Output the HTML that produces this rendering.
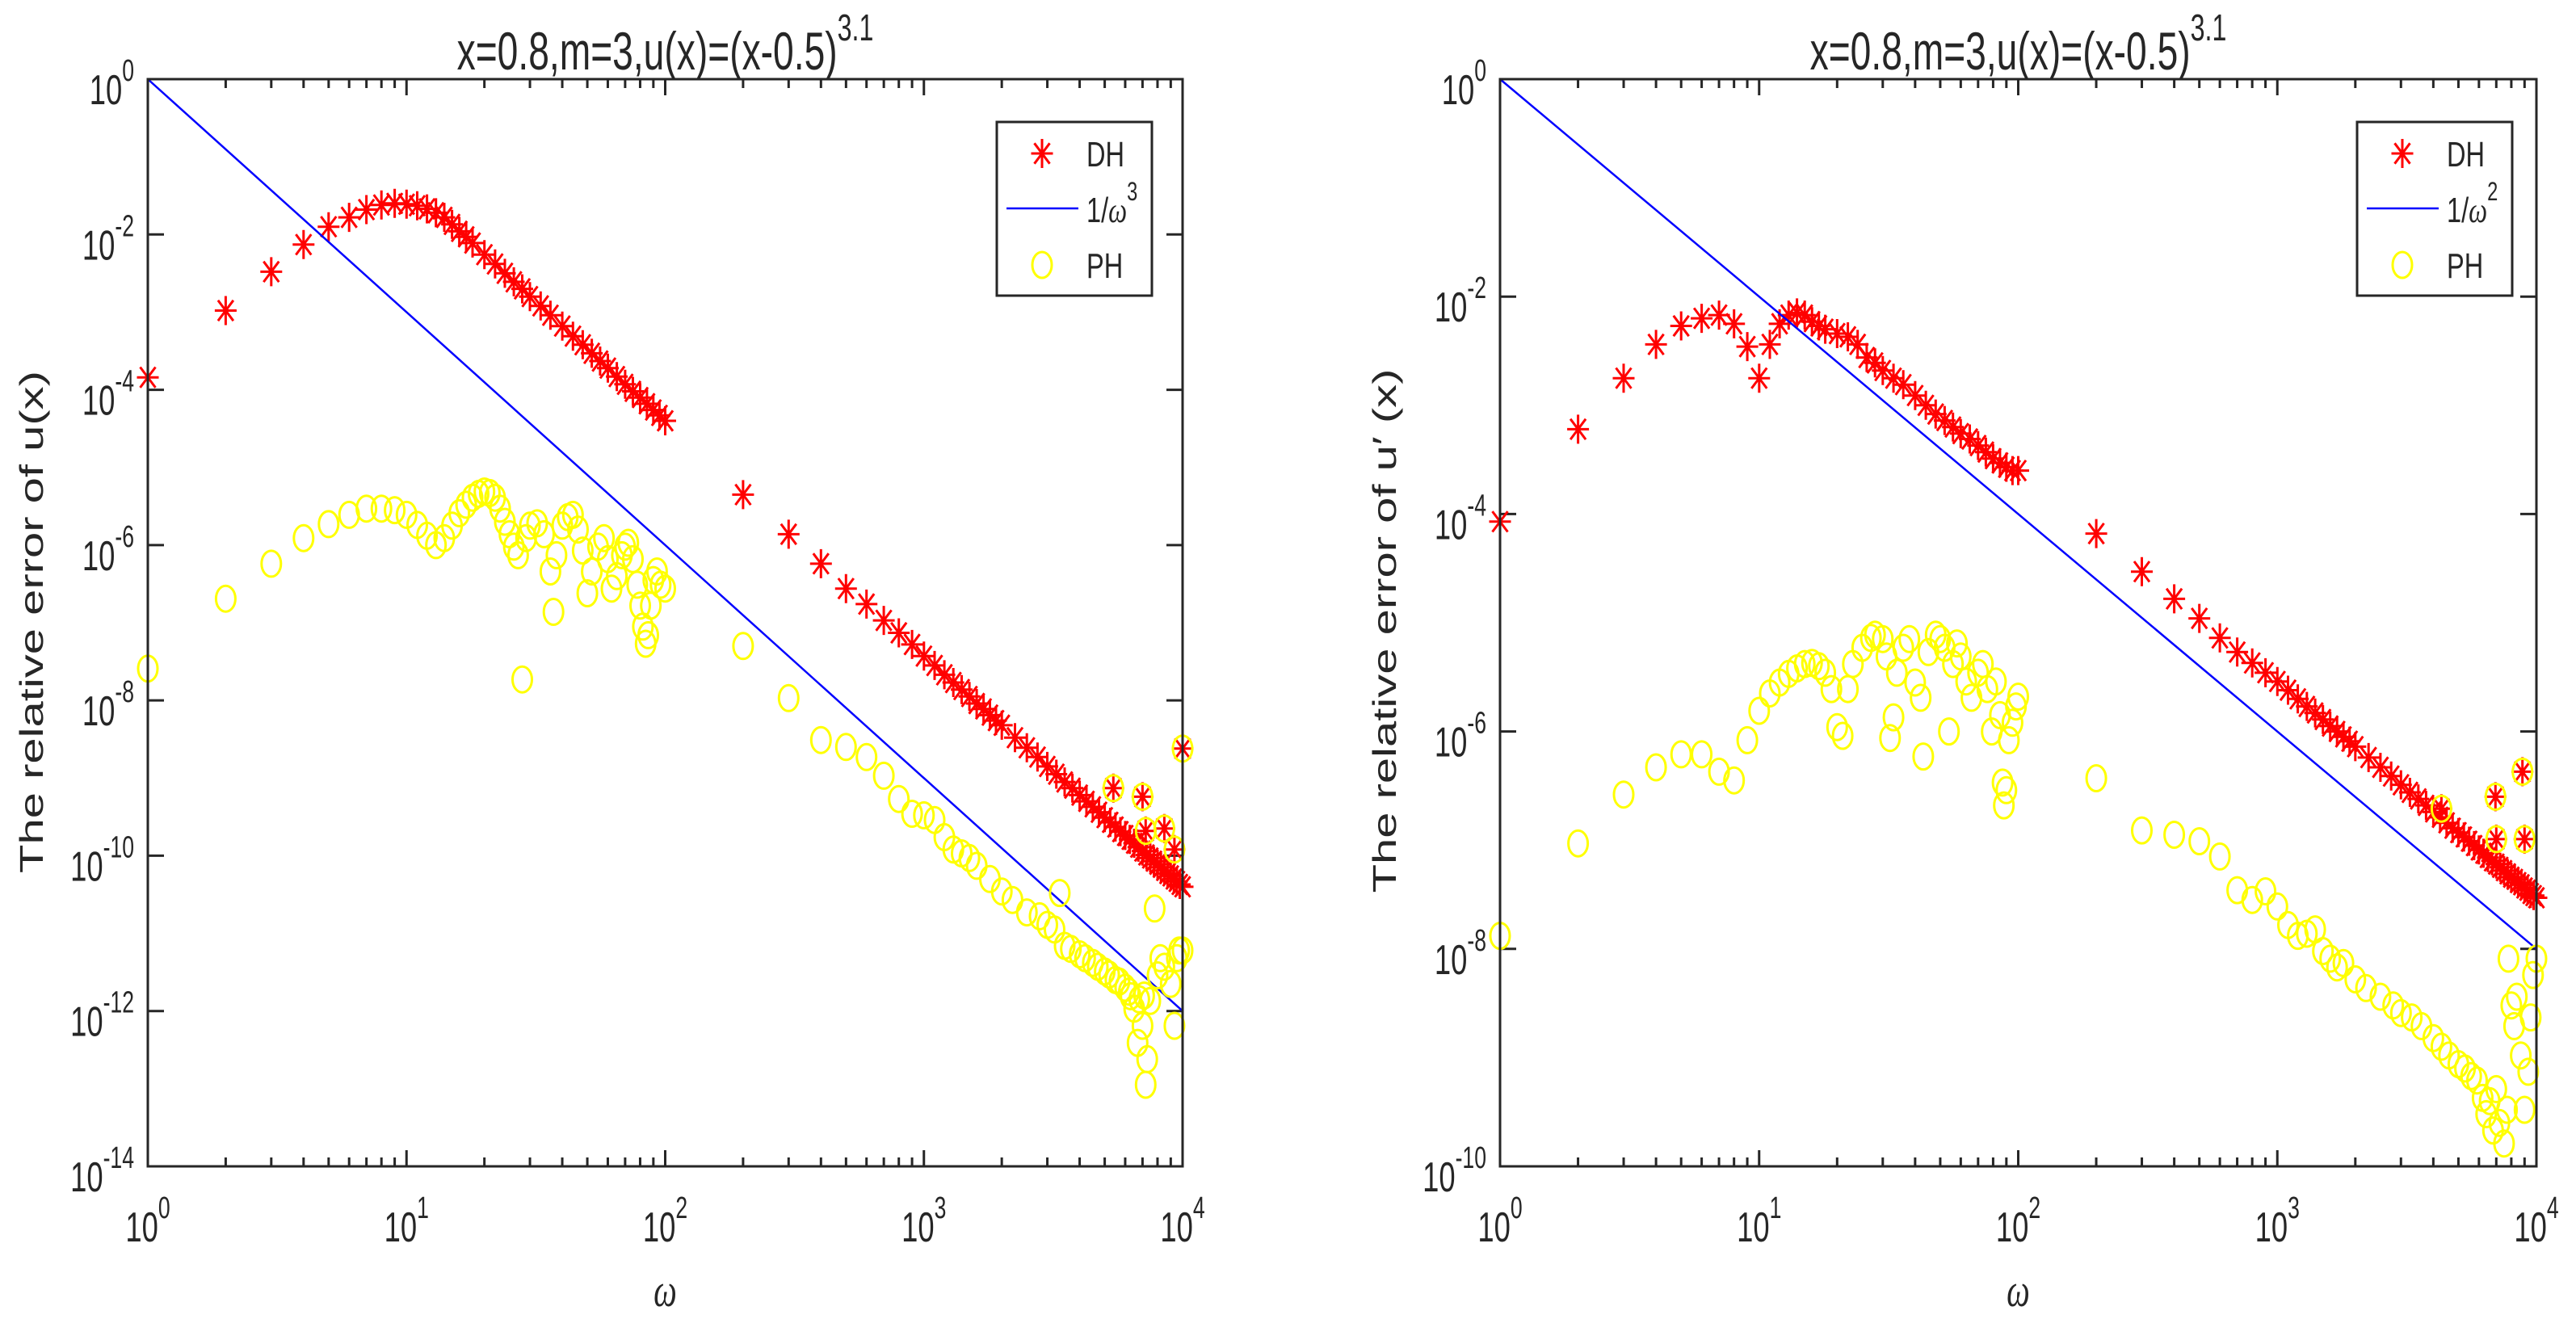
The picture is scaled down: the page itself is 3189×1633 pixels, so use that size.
<!DOCTYPE html>
<html><head><meta charset="utf-8">
<style>
html,body{margin:0;padding:0;background:#fff;}
svg{display:block;}
text{font-family:"Liberation Sans",Arial,sans-serif;fill:#262626;}
</style></head>
<body>
<svg id="fig" width="3189" height="1633" viewBox="0 0 3189 1633" xmlns="http://www.w3.org/2000/svg">
<rect width="3189" height="1633" fill="#fff"/>
</svg>
<script>
// ---------- DATA (values are log10 of relative error) ----------
const xTickExps = [0,1,2,3,4];
const yTickExpsLeft = [0,-2,-4,-6,-8,-10,-12,-14];
const yTickExpsRight = [0,-2,-4,-6,-8,-10];
const refLineLeftW = [1,10000];
const refLineLeftE = [0,-12];
const refLineRightW = [1,10000];
const refLineRightE = [0,-8];

const dhLeft = [[1,-3.84],[2,-2.98],[3,-2.48],[4,-2.13],[5,-1.90],[6,-1.78],[7,-1.68],[8,-1.62],[9,-1.60],[10,-1.61],[11,-1.63],[12,-1.67],[13,-1.72],[14,-1.78],[15,-1.87],[16,-1.96],[17,-2.03],[18,-2.11],[20,-2.26],[22,-2.38],[24,-2.50],[26,-2.61],[28,-2.70],[30,-2.80],[33,-2.92],[36,-3.04],[40,-3.18],[44,-3.31],[48,-3.42],[52,-3.53],[56,-3.63],[60,-3.72],[65,-3.83],[70,-3.93],[75,-4.02],[80,-4.10],[85,-4.18],[90,-4.26],[95,-4.33],[100,-4.40],
[200,-5.35],[300,-5.86],[400,-6.24],[500,-6.56],[600,-6.76],[700,-6.97],[800,-7.13],[900,-7.28],[1000,-7.43],[1100,-7.55],[1200,-7.67],[1300,-7.77],[1400,-7.86],[1500,-7.95],[1600,-8.04],[1700,-8.11],[1800,-8.19],[1900,-8.26],[2000,-8.32],[2250,-8.48],[2500,-8.61],[2750,-8.73],[3000,-8.85],[3250,-8.95],[3500,-9.05],[3750,-9.13],[4000,-9.22],[4250,-9.30],[4500,-9.37],[4750,-9.44],[5000,-9.51],[5250,-9.57],[5500,-9.63],[5750,-9.69],[6000,-9.74],[6250,-9.79],[6500,-9.84],[6750,-9.89],[7000,-9.94],[7250,-9.99],[7500,-10.03],[7750,-10.07],[8000,-10.11],[8250,-10.15],[8500,-10.19],[8750,-10.23],[9000,-10.26],[9250,-10.30],[9500,-10.33],[9750,-10.37],[10000,-10.40],
[5400,-9.13],[7000,-9.24],[7200,-9.68],[8500,-9.65],[9300,-9.92],[10000,-8.62]];

const phLeft = [[1,-7.59],[2,-6.69],[3,-6.24],[4,-5.91],[5,-5.73],[6,-5.61],[7,-5.53],[8,-5.53],[9,-5.55],[10,-5.61],[11,-5.74],[12,-5.88],[13,-6.00],[14,-5.91],[15,-5.75],[16,-5.59],[17,-5.48],[18,-5.39],[19,-5.34],[20,-5.31],[21,-5.33],[22,-5.39],[23,-5.53],[24,-5.70],[25,-5.86],[26,-6.02],[27,-6.13],[28,-7.73],[29,-5.91],[30,-5.75],[32,-5.72],[34,-5.86],[36,-6.34],[37,-6.86],[38,-6.13],[40,-5.75],[42,-5.64],[44,-5.61],[46,-5.80],[48,-6.07],[50,-6.62],[52,-6.34],[55,-6.02],[58,-5.91],[60,-6.18],[62,-6.56],[65,-6.40],[68,-6.13],[70,-6.02],[72,-5.97],[75,-6.18],[78,-6.51],[80,-6.78],[82,-7.05],[84,-7.27],[86,-7.16],[88,-6.78],[90,-6.45],[93,-6.34],[96,-6.51],[100,-6.56],
[200,-7.30],[300,-7.97],[400,-8.51],[500,-8.60],[600,-8.73],[700,-8.97],[800,-9.27],[900,-9.46],[1000,-9.48],[1100,-9.54],[1200,-9.76],[1300,-9.92],[1400,-9.97],[1500,-10.03],[1600,-10.13],[1800,-10.30],[2000,-10.46],[2200,-10.57],[2500,-10.73],[2800,-10.78],[3000,-10.89],[3200,-10.95],[3350,-10.48],[3500,-11.16],[3700,-11.20],[4000,-11.27],[4200,-11.32],[4500,-11.38],[4700,-11.43],[5000,-11.49],[5200,-11.53],[5500,-11.60],[5700,-11.62],[6000,-11.70],[6200,-11.75],[6300,-11.81],[6500,-11.97],[6700,-12.41],[6800,-11.85],[7000,-12.19],[7100,-11.80],[7200,-12.95],[7300,-12.62],[7500,-11.87],[7800,-10.68],[8000,-11.54],[8200,-11.32],[8500,-11.43],[9000,-11.65],[9300,-12.19],[9500,-11.32],[9700,-11.22],[10000,-11.22],
[5400,-9.13],[7000,-9.24],[7200,-9.68],[8500,-9.65],[9300,-9.92],[10000,-8.62]];

const dhRight = [[1,-4.07],[2,-3.22],[3,-2.75],[4,-2.44],[5,-2.27],[6,-2.20],[7,-2.17],[8,-2.25],[9,-2.46],[10,-2.75],[11,-2.44],[12,-2.25],[13,-2.17],[14,-2.15],[15,-2.17],[16,-2.23],[17,-2.27],[18,-2.30],[20,-2.34],[22,-2.37],[24,-2.44],[26,-2.56],[28,-2.61],[30,-2.68],[33,-2.75],[36,-2.81],[40,-2.91],[44,-3.00],[48,-3.08],[52,-3.14],[56,-3.20],[60,-3.26],[65,-3.31],[70,-3.37],[75,-3.43],[80,-3.49],[85,-3.53],[90,-3.57],[95,-3.60],[100,-3.60],
[200,-4.18],[300,-4.53],[400,-4.78],[500,-4.96],[600,-5.14],[700,-5.27],[800,-5.37],[900,-5.46],[1000,-5.54],[1100,-5.62],[1200,-5.70],[1300,-5.77],[1400,-5.83],[1500,-5.89],[1600,-5.95],[1700,-6.00],[1800,-6.05],[1900,-6.09],[2000,-6.14],[2250,-6.24],[2500,-6.33],[2750,-6.41],[3000,-6.49],[3250,-6.56],[3500,-6.62],[3750,-6.68],[4000,-6.74],[4250,-6.79],[4500,-6.84],[4750,-6.89],[5000,-6.93],[5250,-6.97],[5500,-7.01],[5750,-7.05],[6000,-7.09],[6250,-7.12],[6500,-7.16],[6750,-7.19],[7000,-7.22],[7250,-7.25],[7500,-7.28],[7750,-7.31],[8000,-7.34],[8250,-7.36],[8500,-7.39],[8750,-7.41],[9000,-7.44],[9250,-7.46],[9500,-7.49],[9750,-7.51],[10000,-7.53],
[4300,-6.71],[6950,-6.60],[7000,-6.99],[8830,-6.37],[9000,-6.99]];

const phRight = [[1,-7.88],[2,-7.03],[3,-6.58],[4,-6.33],[5,-6.21],[6,-6.21],[7,-6.37],[8,-6.45],[9,-6.08],[10,-5.81],[11,-5.65],[12,-5.55],[13,-5.47],[14,-5.42],[15,-5.38],[16,-5.37],[17,-5.40],[18,-5.46],[19,-5.61],[20,-5.96],[21,-6.04],[22,-5.61],[23,-5.38],[25,-5.23],[27,-5.14],[28,-5.11],[30,-5.15],[31,-5.31],[32,-6.06],[33,-5.87],[34,-5.46],[36,-5.23],[38,-5.15],[40,-5.55],[42,-5.69],[43,-6.23],[45,-5.27],[48,-5.11],[50,-5.15],[52,-5.23],[54,-6.00],[56,-5.38],[58,-5.19],[60,-5.31],[63,-5.54],[66,-5.69],[70,-5.46],[73,-5.38],[76,-5.61],[79,-6.00],[82,-5.54],[85,-5.85],[87,-6.47],[88,-6.68],[90,-6.54],[92,-6.08],[95,-5.92],[98,-5.77],[100,-5.68],
[200,-6.43],[300,-6.91],[400,-6.95],[500,-7.01],[600,-7.15],[700,-7.46],[800,-7.55],[900,-7.47],[1000,-7.61],[1100,-7.78],[1200,-7.88],[1300,-7.86],[1400,-7.82],[1500,-8.02],[1600,-8.09],[1700,-8.17],[1800,-8.13],[2000,-8.28],[2200,-8.36],[2500,-8.44],[2800,-8.52],[3000,-8.59],[3300,-8.63],[3600,-8.71],[4000,-8.82],[4300,-8.90],[4600,-8.98],[5000,-9.06],[5300,-9.10],[5600,-9.17],[5900,-9.21],[6200,-9.37],[6400,-9.52],[6600,-9.40],[6800,-9.67],[7000,-9.29],[7200,-9.60],[7500,-9.79],[7700,-9.48],[7800,-8.09],[8000,-8.52],[8200,-8.71],[8400,-8.44],[8700,-8.98],[9000,-9.48],[9300,-9.13],[9500,-8.63],[9700,-8.24],[10000,-8.09],
[4300,-6.71],[6950,-6.60],[7000,-6.99],[8830,-6.37],[9000,-6.99]];

// ---------- RENDER ----------
const NS = "http://www.w3.org/2000/svg";
const svg = document.getElementById('fig');
const SX = 0.7; // horizontal text compression of the original figure

function mk(tag, attrs, parent){
  const e = document.createElementNS(NS, tag);
  for (const k in attrs) e.setAttribute(k, attrs[k]);
  (parent||svg).appendChild(e);
  return e;
}
function sciLabel(parent, x, y, exp, anchor, name){
  const t = mk('text', {transform:`translate(${x},${y}) scale(${SX},1)`, 'font-size':52, 'text-anchor':anchor}, parent);
  
  
  t.appendChild(document.createTextNode('10'));
  const s = mk('tspan', {dy:-29, 'font-size':38}, t);
  s.textContent = String(exp);
  return t;
}

function drawPanel(cfg){
  const g = mk('g', {});
  
  
  const {L,R,T,B,yMin} = cfg;
  const xs = e => L + (e/4)*(R-L);
  const xw = w => xs(Math.log10(w));
  const ye = e => T + (0 - e)/(0 - yMin)*(B-T);

  // ticks
  const tg = mk('g', {stroke:'#262626','stroke-width':3}, g);
  
  
  for (let d=0; d<4; d++){
    for (let m=1; m<=9; m++){
      const x = xw(Math.pow(10,d)*m);
      const len = m===1 ? 20 : 11;
      if (m===1 && d===0) continue;
      mk('line', {x1:x, y1:B, x2:x, y2:B-len}, tg);
      mk('line', {x1:x, y1:T, x2:x, y2:T+len}, tg);
    }
  }
  cfg.yTicks.forEach(e => {
    const y = ye(e);
    mk('line', {x1:L, y1:y, x2:L+20, y2:y}, tg);
    mk('line', {x1:R, y1:y, x2:R-20, y2:y}, tg);
  });

  // tick labels
  xTickExps.forEach(e => sciLabel(g, xs(e), 1537, e, 'middle', 'x-tick-label'));
  cfg.yTicks.forEach(e => sciLabel(g, L-17, ye(e)+31, e, 'end', 'y-tick-label'));

  // DH series
  const dg = mk('g', {stroke:'#ff0000','stroke-width':3, fill:'none'}, g);
  
  
  cfg.dh.forEach(p => {
    const m = mk('path', {d:'M0,-18V18M-13.5,0H13.5M-9.5,-12.7L9.5,12.7M-9.5,12.7L9.5,-12.7', transform:`translate(${xw(p[0]).toFixed(1)},${ye(p[1]).toFixed(1)})`}, dg);
    
    
  });

  // reference line
  const ln = mk('polyline', {points: cfg.lineW.map((w,i)=>xw(w)+','+ye(cfg.lineE[i])).join(' '), stroke:'#0000ff','stroke-width':2.5, fill:'none'}, g);
  
  

  // PH series
  const pg = mk('g', {stroke:'#ffff00','stroke-width':3, fill:'none'}, g);
  
  
  cfg.ph.forEach(p => {
    const c = mk('ellipse', {cx:xw(p[0]).toFixed(1), cy:ye(p[1]).toFixed(1), rx:12, ry:16}, pg);
    
    
  });

  // axes box
  const box = mk('rect', {x:L, y:T, width:R-L, height:B-T, fill:'none', stroke:'#262626','stroke-width':3}, g);
  
  

  // title
  const cx = (L+R)/2;
  const tt = mk('text', {transform:`translate(${cx},86) scale(${SX},1)`, 'font-size':66, 'text-anchor':'middle'}, g);
  
  
  tt.appendChild(document.createTextNode('x=0.8,m=3,u(x)=(x-0.5)'));
  const ts = mk('tspan', {dy:-36, 'font-size':46}, tt); ts.textContent = '3.1';

  // x label
  const xl = mk('text', {transform:`translate(${cx},1617) scale(${SX},1)`, 'font-size':58, 'text-anchor':'middle', 'font-style':'italic', style:'font-family:"Liberation Serif",serif'}, g);
  
  
  xl.textContent = 'ω';

  // y label
  const yl = mk('text', {transform:`translate(${cfg.ylabX},${cfg.ylabY}) scale(${SX},1) rotate(-90)`, 'font-size':58, 'text-anchor':'middle'}, g);
  
  
  yl.textContent = cfg.ylab;

  // legend
  const lg = mk('g', {}, g);
  
  
  const lx = cfg.legX, ly = 151;
  mk('rect', {x:lx, y:ly, width:192, height:215, fill:'#fff', stroke:'#262626', 'stroke-width':3}, lg);
  const e1 = mk('g', {}, lg);
  
  
  mk('path', {d:'M0,-18V18M-13.5,0H13.5M-9.5,-12.7L9.5,12.7M-9.5,12.7L9.5,-12.7', transform:`translate(${lx+56},${ly+39})`, stroke:'#ff0000','stroke-width':3, fill:'none'}, e1);
  const t1 = mk('text', {transform:`translate(${lx+111},${ly+55}) scale(${SX+0.04},1)`, 'font-size':44}, e1); t1.textContent='DH';
  const e2 = mk('g', {}, lg);
  
  
  mk('line', {x1:lx+12, y1:ly+107, x2:lx+101, y2:ly+107, stroke:'#0000ff','stroke-width':2.5}, e2);
  const t2 = mk('text', {transform:`translate(${lx+111},${ly+124}) scale(${SX+0.04},1)`, 'font-size':44}, e2);
  t2.appendChild(document.createTextNode('1/'));
  const om = mk('tspan', {'font-style':'italic', style:'font-family:"Liberation Serif",serif'}, t2); om.textContent='ω';
  const sp = mk('tspan', {dy:-27, 'font-size':32}, t2); sp.textContent = cfg.pow;
  const e3 = mk('g', {}, lg);
  
  
  mk('ellipse', {cx:lx+56, cy:ly+177, rx:12, ry:16, stroke:'#ffff00','stroke-width':3, fill:'none'}, e3);
  const t3 = mk('text', {transform:`translate(${lx+111},${ly+193}) scale(${SX+0.04},1)`, 'font-size':44}, e3); t3.textContent='PH';
}

drawPanel({name:'left-panel', L:183, R:1464, T:98, B:1444, yMin:-14, yTicks:yTickExpsLeft,
  dh:dhLeft, ph:phLeft, lineW:refLineLeftW, lineE:refLineLeftE,
  ylab:'The relative error of u(x)', ylabX:53, ylabY:770, legX:1234, pow:'3'});
drawPanel({name:'right-panel', L:1857, R:3140, T:98, B:1444, yMin:-10, yTicks:yTickExpsRight,
  dh:dhRight, ph:phRight, lineW:refLineRightW, lineE:refLineRightE,
  ylab:'The relative error of u\u2032 (x)', ylabX:1728, ylabY:781, legX:2918, pow:'2'});
</script>
</body></html>
